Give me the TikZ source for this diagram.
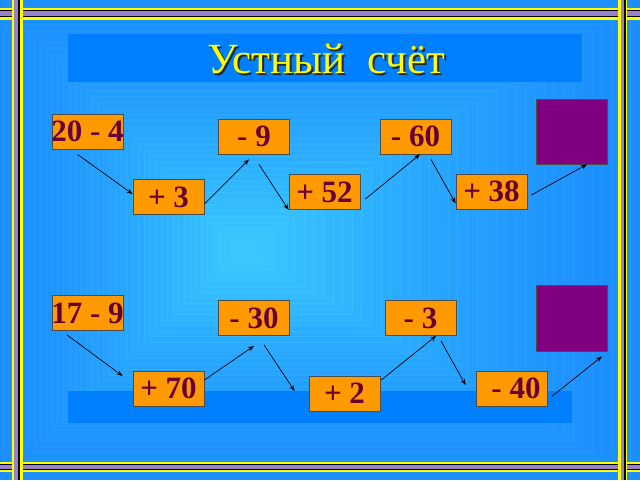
\documentclass[tikz,border=0pt]{standalone}
\usepackage{fontspec}
\setmainfont{Liberation Serif}
\usetikzlibrary{arrows.meta}
\definecolor{bgout}{RGB}{28,142,255}
\definecolor{bgin}{RGB}{58,200,255}
\definecolor{panel}{RGB}{0,128,255}
\definecolor{orbox}{RGB}{255,153,0}
\definecolor{numc}{RGB}{102,0,51}
\definecolor{purp}{RGB}{128,0,128}
\definecolor{fpurp}{RGB}{150,130,200}
\definecolor{fyel}{RGB}{255,255,0}
\tikzset{
  opbox/.style={draw=black!70, line width=0.8pt, fill=orbox, minimum width=71, minimum height=35, inner sep=0pt, text=numc, font=\bfseries\fontsize{31}{31}\selectfont},
  sqbox/.style={draw=black!70, line width=0.8pt, fill=purp, minimum width=71, inner sep=0pt},
  arr/.style={-{Stealth[length=6pt,width=4.5pt]}, line width=0.7pt, black},
  paneltitle/.style={fill=panel, draw=none},
  titlefont/.style={font=\fontsize{43}{43}\selectfont}
}
\begin{document}
\begin{tikzpicture}[x=1pt,y=-1pt]
\useasboundingbox (0,0) rectangle (640,480);
% background
\fill[bgout] (0,0) rectangle (640,480);
\foreach \i in {1,...,40}{
  \pgfmathsetmacro\t{\i/40*0.96}
  \pgfmathsetmacro\p{100*(\i/40)^1.4}
  \pgfmathsetmacro\q{min(100,\p+14)}
  \fill[bgin!\p!bgout, draw=bgin!\q!bgout, line width=0.6pt] (240*\t,250*\t) rectangle (640-400*\t,480-230*\t);
}
% panels
\fill[paneltitle] (68,34) rectangle (582,82);
\fill[paneltitle] (68,391) rectangle (572,423);
% frame horizontal
\foreach \ya/\yb in {8/19.5, 462/472}{
  \fill[fyel] (0,\ya) rectangle (640,\yb);
}
\fill[fpurp] (0,11) rectangle (640,16.5);
\draw[black, line width=0.8pt] (0,10.8) -- (640,10.8);
\draw[black, line width=1.2pt] (0,16.8) -- (640,16.8);
\fill[fpurp] (0,465) rectangle (640,469);
\draw[black, line width=0.8pt] (0,464.6) -- (640,464.6);
\draw[black, line width=0.6pt] (0,469) -- (640,469);
% frame vertical
\fill[fyel] (12,0) rectangle (22.5,480);
\fill[fpurp] (14,0) rectangle (18,480);
\fill[black] (18,0) rectangle (20,480);
\fill[fyel] (617.5,0) rectangle (626.5,480);
\fill[fpurp] (620.5,0) rectangle (624,480);
\fill[black] (624,0) rectangle (626,480);
% title with shadow
\node[anchor=base, text=black!85, titlefont] (tshadow) at (328,75) {Устный\hspace{22pt}счёт};
\node[anchor=base, text=fyel, titlefont] (title) at (326,73) {Устный\hspace{22pt}счёт};
% top chain
\node[opbox] (a) at (87.5,131.5) {\makebox[0pt]{20 - 4}};
\node[opbox] (b) at (168.5,197) {\makebox[0pt]{+ 3}};
\node[opbox] (c) at (254,136.5) {\makebox[0pt]{- 9}};
\node[opbox] (d) at (324.5,192) {\makebox[0pt]{+ 52}};
\node[opbox] (e) at (415.5,136.5) {\makebox[0pt]{- 60}};
\node[opbox] (f) at (491.5,191.5) {\makebox[0pt]{+ 38}};
\node[sqbox, minimum height=65] (g) at (571.5,131.5) {};
\draw[arr] ([shift={(-10,5)}]a.south) -- ([shift={(0,-3)}]b.west);
\draw[arr] ([shift={(0,7)}]b.east) -- ([shift={(-5,5)}]c.south);
\draw[arr] ([shift={(5,10)}]c.south) -- (d.south west);
\draw[arr] ([shift={(5,7)}]d.east) -- ([shift={(4.5,0)}]e.south);
\draw[arr] ([shift={(15.5,5)}]e.south) -- ([shift={(0,-6)}]f.south west);
\draw[arr] ([shift={(4,3.5)}]f.east) -- ([shift={(15.5,0)}]g.south);
% bottom chain
\node[opbox] (h) at (87.5,313) {\makebox[0pt]{17 - 9}};
\node[opbox] (i) at (168.5,388.5) {\makebox[0pt]{+ 70}};
\node[opbox] (j) at (254,318) {\makebox[0pt]{- 30}};
\node[opbox] (k) at (344.5,393.5) {\makebox[0pt]{+ 2}};
\node[opbox] (l) at (420.5,318) {\makebox[0pt]{- 3}};
\node[opbox] (m) at (511.5,388.5) {\makebox[0pt]{\hspace{9pt}- 40}};
\node[sqbox, minimum height=66] (n) at (571.5,318) {};
\draw[arr] ([shift={(-20.5,4)}]h.south) -- ([shift={(-10,-12.5)}]i.west);
\draw[arr] ([shift={(0,-8.5)}]i.east) -- ([shift={(0,10)}]j.south);
\draw[arr] ([shift={(10,9)}]j.south) -- ([shift={(-14,-2.5)}]k.west);
\draw[arr] ([shift={(1,-13.5)}]k.east) -- ([shift={(15.5,0)}]l.south);
\draw[arr] ([shift={(20.5,5)}]l.south) -- ([shift={(-10,-3.5)}]m.west);
\draw[arr] ([shift={(5,7.5)}]m.east) -- ([shift={(30.5,5)}]n.south);
\end{tikzpicture}
\end{document}
